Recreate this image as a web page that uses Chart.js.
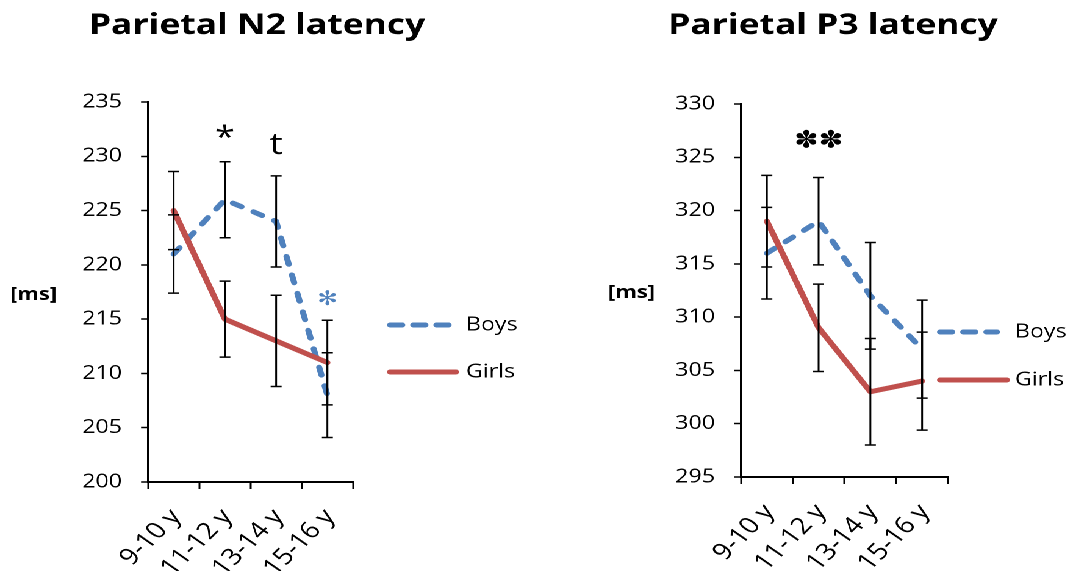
<!DOCTYPE html>
<html>
<head>
<meta charset="utf-8">
<script src="https://cdn.jsdelivr.net/npm/chart.js@4"></script>
<style>
html, body { margin: 0; padding: 0; background: #fff; overflow: hidden; }
#stage { position: absolute; left: 0; top: 0; width: 876px; height: 571px; transform-origin: 0 0; }
.box { position: absolute; top: 0; height: 571px; }
</style>
</head>
<body>
<div id="stage">
  <div class="box" style="left:0;width:437px"><canvas id="n2Chart"></canvas></div>
  <div class="box" style="left:437px;width:439px"><canvas id="p3Chart"></canvas></div>
</div>
<script>
// data
var ageGroups = ['9-10 y', '11-12 y', '13-14 y', '15-16 y'];

var n2Boys = [221, 226, 224, 208];
var n2BoysErr = [3.6, 3.5, 4.2, 3.9];
var n2Girls = [225, 215, 213, 211];
var n2GirlsErr = [3.6, 3.5, 4.2, 3.9];
var n2Ticks = [200, 205, 210, 215, 220, 225, 230, 235];

var p3Boys = [316, 319, 312, 307];
var p3BoysErr = [4.3, 4.1, 5.0, 4.6];
var p3Girls = [319, 309, 303, 304];
var p3GirlsErr = [4.3, 4.1, 5.0, 4.6];
var p3Ticks = [295, 300, 305, 310, 315, 320, 325, 330];

// significance marks: text, category index, level (ms)
var n2MarkText = ['*', 't', '\u273B'];
var n2MarkAt = [1, 2, 3];
var n2MarkLevel = [231.6, 231.0, 216.8];
var p3MarkText = ['\u273D\u273D'];
var p3MarkAt = [1];
var p3MarkLevel = [326.5];

var BLUE = '#4F81BD';
var RED = '#C0504D';
var FONT = "'Open Sans', sans-serif";

// the source picture is stretched sideways, so is this page
var S = 1.22;
document.getElementById('stage').style.transform = 'scaleX(' + S + ')';

Chart.defaults.font.family = FONT;
Chart.defaults.color = '#000';

var extras = {
  id: 'extras',
  afterDatasetsDraw: function(chart, args, o) {
    var ctx = chart.ctx;
    var xs = chart.scales.x, ys = chart.scales.y;
    ctx.save();
    ctx.strokeStyle = '#000';
    ctx.lineWidth = 1.5;
    ctx.lineCap = 'butt';
    o.errors.forEach(function(e) {
      e[0].forEach(function(v, i) {
        var px = xs.getPixelForValue(i);
        var top = ys.getPixelForValue(v + e[1][i]);
        var bot = ys.getPixelForValue(v - e[1][i]);
        ctx.beginPath();
        ctx.moveTo(px, top); ctx.lineTo(px, bot);
        ctx.moveTo(px - 4.5, top); ctx.lineTo(px + 4.5, top);
        ctx.moveTo(px - 4.5, bot); ctx.lineTo(px + 4.5, bot);
        ctx.stroke();
      });
    });
    // marks
    ctx.textAlign = 'center';
    ctx.textBaseline = 'middle';
    o.marks.text.forEach(function(t, i) {
      var dingbat = t.charCodeAt(0) > 1000;
      ctx.fillStyle = o.marks.colors[i];
      ctx.font = dingbat ? (o.marks.dingSize + 'px "DejaVu Sans"') : ('30px ' + FONT);
      ctx.fillText(t, xs.getPixelForValue(o.marks.at[i]), ys.getPixelForValue(o.marks.level[i]));
    });
    ctx.restore();
  },
  afterDraw: function(chart, args, o) {
    var ctx = chart.ctx;
    ctx.save();
    // title
    ctx.fillStyle = '#000';
    ctx.textAlign = 'center';
    ctx.textBaseline = 'alphabetic';
    ctx.font = 'bold 29px ' + FONT;
    ctx.fillText(o.title, o.titleX, 34);
    // unit
    ctx.textAlign = 'left';
    ctx.textBaseline = 'middle';
    ctx.font = 'bold 18px ' + FONT;
    ctx.fillText('[ms]', o.unitX, o.unitY);
    // legend
    var L = o.legend;
    ctx.lineWidth = 5;
    ctx.lineCap = 'round';
    ctx.strokeStyle = BLUE;
    ctx.setLineDash([10, 9]);
    ctx.beginPath(); ctx.moveTo(L.x0, L.yBoys); ctx.lineTo(L.x1Boys, L.yBoys); ctx.stroke();
    ctx.setLineDash([]);
    ctx.strokeStyle = RED;
    ctx.beginPath(); ctx.moveTo(L.x0, L.yGirls); ctx.lineTo(L.x1Girls, L.yGirls); ctx.stroke();
    ctx.font = '19px ' + FONT;
    ctx.fillStyle = '#000';
    ctx.fillText('Boys', L.tx, L.yBoys);
    ctx.fillText('Girls', L.tx, L.yGirls);
    ctx.restore();
  }
};

function makeChart(id, cfg) {
  return new Chart(document.getElementById(id), {
    type: 'line',
    data: {
      labels: ageGroups,
      datasets: [
        { label: 'Boys', data: cfg.boys, borderColor: BLUE, borderWidth: 5, borderDash: [8, 11],
          borderCapStyle: 'round', pointRadius: 0, tension: 0, fill: false, order: 2 },
        { label: 'Girls', data: cfg.girls, borderColor: RED, borderWidth: 5,
          borderCapStyle: 'round', borderJoinStyle: 'round', pointRadius: 0, tension: 0, fill: false, order: 1 }
      ]
    },
    options: {
      responsive: true,
      maintainAspectRatio: false,
      animation: false,
      devicePixelRatio: 2,
      layout: { padding: { left: 0, top: cfg.top, right: cfg.padRight, bottom: 0 } },
      plugins: {
        legend: { display: false },
        tooltip: { enabled: false },
        extras: {
          errors: [[cfg.boys, cfg.boysErr], [cfg.girls, cfg.girlsErr]],
          marks: cfg.marks,
          title: cfg.title, titleX: cfg.titleX,
          unitX: cfg.unitX, unitY: cfg.unitY,
          legend: cfg.legend
        }
      },
      scales: {
        x: {
          offset: true,
          grid: { offset: true, drawOnChartArea: false, drawTicks: true, tickLength: 7, tickColor: '#000', tickWidth: 1.5 },
          border: { color: '#000', width: 2 },
          ticks: { autoSkip: false, minRotation: 50, maxRotation: 50, padding: 15, labelOffset: 2,
                   font: { size: 23 }, color: '#000' },
          afterFit: function(s) { s.height = 571 - cfg.bottom; }
        },
        y: {
          min: cfg.ticks[0], max: cfg.ticks[cfg.ticks.length - 1],
          afterBuildTicks: function(s) { s.ticks = cfg.ticks.map(function(v) { return { value: v }; }); },
          grid: { drawOnChartArea: false, drawTicks: true, tickLength: 5.7, tickColor: '#000', tickWidth: 1.5 },
          border: { color: '#000', width: 2 },
          ticks: { padding: 15.6, font: { size: 19 }, color: '#000' },
          afterFit: function(s) { s.width = cfg.axisLeft; }
        }
      }
    },
    plugins: [extras]
  });
}

makeChart('n2Chart', {
  boys: n2Boys, boysErr: n2BoysErr, girls: n2Girls, girlsErr: n2GirlsErr, ticks: n2Ticks,
  top: 102, bottom: 482, axisLeft: 148 / S, padRight: 437 - 353 / S,
  title: 'Parietal N2 latency', titleX: 257 / S,
  unitX: 10 / S, unitY: 295,
  marks: { text: n2MarkText, at: n2MarkAt, level: n2MarkLevel, colors: ['#000', '#000', BLUE], dingSize: 20 },
  legend: { x0: 387 / S + 2.5, x1Boys: 452 / S - 2.5, x1Girls: 459 / S - 2.5, tx: 466 / S, yBoys: 325, yGirls: 372 }
});

makeChart('p3Chart', {
  boys: p3Boys, boysErr: p3BoysErr, girls: p3Girls, girlsErr: p3GirlsErr, ticks: p3Ticks,
  top: 104, bottom: 477, axisLeft: 741 / S - 437, padRight: 439 - (948 / S - 437),
  title: 'Parietal P3 latency', titleX: 833 / S - 437,
  unitX: 608 / S - 437, unitY: 293,
  marks: { text: p3MarkText, at: p3MarkAt, level: p3MarkLevel, colors: ['#000'], dingSize: 24 },
  legend: { x0: 937 / S - 437 + 2.5, x1Boys: 1000 / S - 437 - 2.5, x1Girls: 1010 / S - 437 - 2.5, tx: 1015 / S - 437, yBoys: 332, yGirls: 380 }
});
</script>
</body>
</html>
